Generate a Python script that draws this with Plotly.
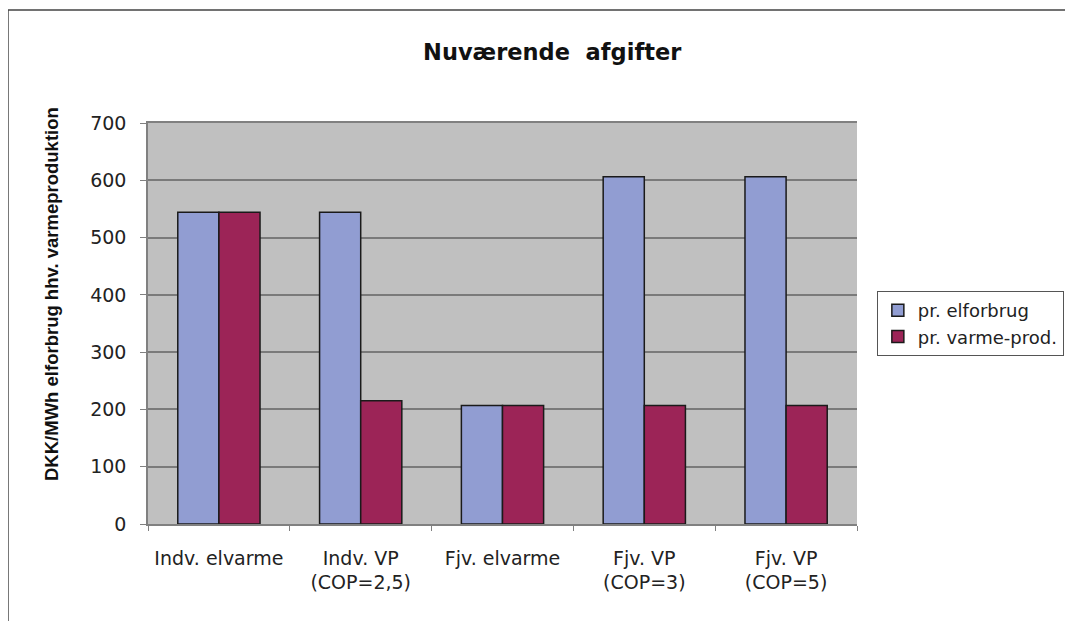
import plotly.graph_objects as go

categories = ["Indv. elvarme", "Indv. VP<br>(COP=2,5)", "Fjv. elvarme",
              "Fjv. VP<br>(COP=3)", "Fjv. VP<br>(COP=5)"]
pr_elforbrug = [544, 544, 207, 606, 606]
pr_varme_prod = [544, 215, 207, 207, 207]

fnt = "DejaVu Sans, Arial, sans-serif"
fnt_b = "Liberation Sans, Arial, sans-serif"

fig = go.Figure()
fig.add_trace(go.Bar(x=categories, y=pr_elforbrug, name="pr. elforbrug",
                     marker=dict(color="#919dd2", line=dict(color="#1a1a1a", width=1.5))))
fig.add_trace(go.Bar(x=categories, y=pr_varme_prod, name="pr. varme-prod.",
                     marker=dict(color="#9c2457", line=dict(color="#1a1a1a", width=1.5))))

# browser body margin of 8px is taken into account here
fig.update_layout(
    width=1065, height=613,
    margin=dict(l=140, r=216, t=115, b=97, autoexpand=False),
    paper_bgcolor="white",
    plot_bgcolor="#c0c0c0",
    barmode="group",
    bargap=0.42,
    bargroupgap=0,
    font=dict(family=fnt, size=17, color="#222"),
    title=dict(text="Nuværende\u00a0 afgifter", x=0.511, xanchor="center",
               y=0.928, yanchor="middle",
               font=dict(family=fnt, size=22.5, color="#111", weight="bold")),
    legend=dict(x=1.028, y=0.5, xanchor="left", yanchor="middle",
                bordercolor="#555", borderwidth=1, bgcolor="white",
                font=dict(family=fnt, size=18, color="#222"),
                itemwidth=30, tracegroupgap=6),
    showlegend=True,
)

fig.update_xaxes(showline=True, linecolor="#808080", linewidth=1.5, mirror=True,
                 ticks="outside", tickson="boundaries", ticklen=5, tickcolor="#808080",
                 showgrid=False, tickfont=dict(size=19), tickangle=0,
                 ticklabelstandoff=16, automargin=False)
fig.update_yaxes(range=[0, 700], dtick=100, showline=True, linecolor="#808080", linewidth=1.5,
                 ticks="outside", ticklen=6, tickcolor="#808080",
                 gridcolor="#7a7a7a", gridwidth=1.5, zeroline=False,
                 tickfont=dict(size=19), ticklabelstandoff=10, automargin=False)

# y axis title placed by hand (sits above the plot middle in the original)
fig.add_annotation(text="DKK/MWh elforbrug hhv. varmeproduktion", textangle=-90,
                   xref="paper", yref="paper", x=-0.1354, y=0.5736,
                   xanchor="center", yanchor="middle", showarrow=False,
                   font=dict(family=fnt_b, size=18.5, color="#111", weight="bold"))

# outer chart frame
fig.add_shape(type="rect", xref="paper", yref="paper",
              x0=-0.1975, y0=-0.3, x1=1.5, y1=1.282,
              line=dict(color="#444", width=1.5), fillcolor="rgba(0,0,0,0)", layer="below")

fig.write_html("out.html")
